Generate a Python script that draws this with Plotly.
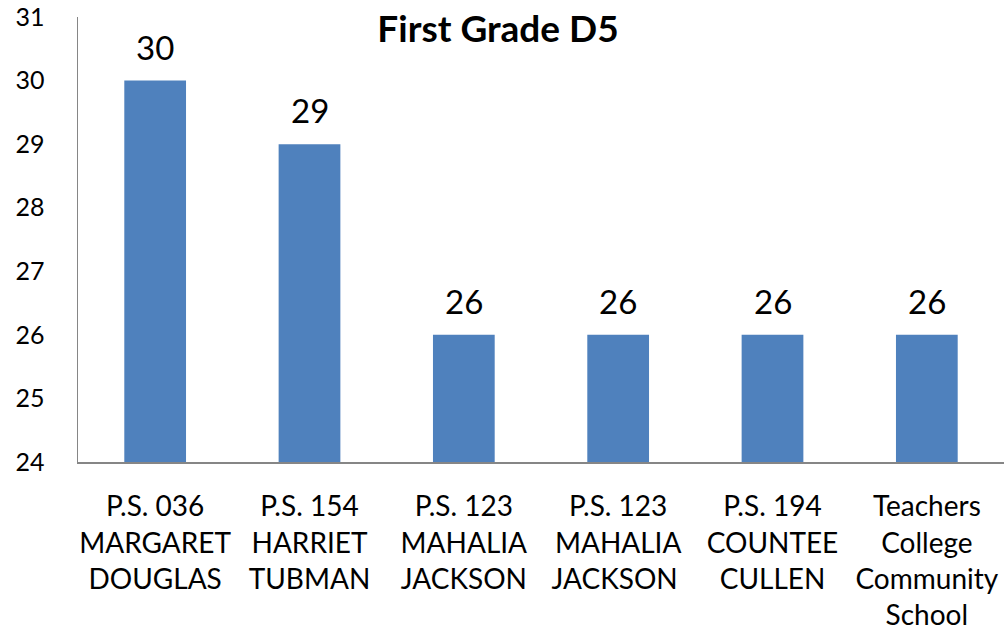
import plotly.graph_objects as go

categories = [
    "P.S. 036<br>MARGARET<br>DOUGLAS",
    "P.S. 154<br>HARRIET<br>TUBMAN",
    "P.S. 123<br>MAHALIA<br>JACKSON",
    "P.S. 123<br>MAHALIA<br>JACKSON ",
    "P.S. 194<br>COUNTEE<br>CULLEN",
    "Teachers<br>College<br>Community<br>School",
]
values = [30, 29, 26, 26, 26, 26]
y_ticks = [24, 25, 26, 27, 28, 29, 30, 31]
title_text = "First Grade D5"

FONT = "Lato"
AXIS = "#868686"

fig = go.Figure()
fig.add_trace(go.Bar(
    x=categories,
    y=values,
    marker=dict(color="#4F81BD", line=dict(width=0)),
    hoverinfo="skip",
))

for c, v in zip(categories, values):
    fig.add_annotation(
        x=c, y=v, text=str(v), showarrow=False,
        xref="x", yref="y", yanchor="bottom", yshift=12,
        font=dict(family=FONT, size=33, color="black"),
    )

fig.update_layout(
    width=1005, height=636, autosize=False,
    margin=dict(l=78, r=1, t=17, b=174, pad=0, autoexpand=False),
    paper_bgcolor="white", plot_bgcolor="white",
    bargap=0.6,
    showlegend=False,
    title=dict(
        text="<b>" + title_text + "</b>",
        x=0.4536, xanchor="center", xref="paper",
        y=1 - 29 / 636, yanchor="middle", yref="container",
        font=dict(family=FONT, size=37, color="black"),
    ),
    font=dict(family=FONT, color="black"),
)

fig.update_yaxes(
    range=[24, 31], tickvals=y_ticks, ticktext=[str(t) for t in y_ticks],
    showgrid=False, zeroline=False, showline=True, linecolor=AXIS, linewidth=1.5,
    ticks="", ticklabelstandoff=27, automargin=False, ticklabeloverflow="allow",
    tickfont=dict(family=FONT, size=25, color="black"),
)
fig.update_xaxes(
    showgrid=False, zeroline=False, showline=True, linecolor=AXIS, linewidth=1.5,
    ticks="", ticklabelstandoff=19, automargin=False, ticklabeloverflow="allow",
    tickfont=dict(family=FONT, size=28, color="black"),
    tickangle=0,
)

fig.write_html(
    "out.html",
    config={"displayModeBar": False, "staticPlot": True},
    post_script="document.body.style.margin='0';document.body.style.overflow='hidden';",
)
